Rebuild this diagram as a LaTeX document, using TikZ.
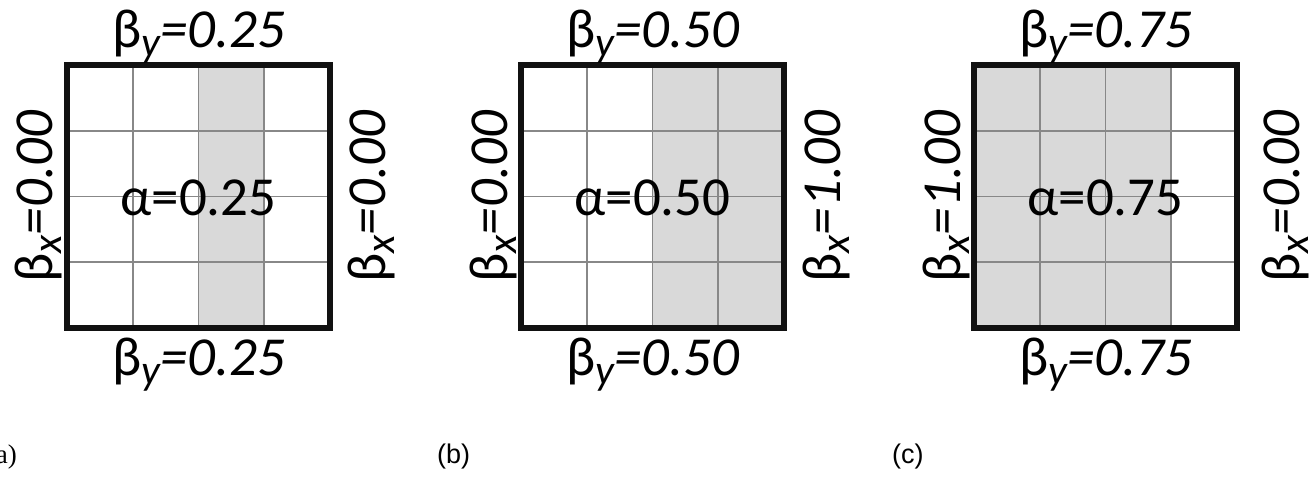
\documentclass[tikz,border=0pt]{standalone}
\usepackage{fontspec}
\setmainfont{Carlito}
\newfontfamily\arialfont{Liberation Sans}
\newfontfamily\timesfont{Liberation Serif}
\definecolor{shadec}{HTML}{D9D9D9}
\definecolor{gridc}{HTML}{888888}
\definecolor{framec}{HTML}{111111}
\newcommand{\bylab}[1]{β\raisebox{-9pt}{\fontsize{42}{42}\selectfont\itshape y}{\itshape =#1}}
\newcommand{\bxlab}[1]{β\raisebox{-9pt}{\fontsize{42}{42}\selectfont\itshape x}{\itshape =#1}}
\tikzset{
  lab/.style={inner sep=0pt, font=\fontsize{55}{60}\selectfont, text=black},
  sidelab/.style={lab, anchor=base, rotate=90},
  gridline/.style={draw=gridc, line width=1.6pt},
  framebox/.style={draw=framec, line width=6.8pt},
  shadebox/.style={fill=shadec},
  panellab/.style={inner sep=0pt, font=\fontsize{27}{30}\selectfont, text=black}
}
\begin{document}
\begin{tikzpicture}[x=1pt,y=-1pt]
\useasboundingbox (0,0) rectangle (1313,477);
% ---------- panel (a)
\begin{scope}[shift={(67,65)}]
  \fill[shadebox] (131.5,0) rectangle (197.25,263);
  \foreach \i in {1,2,3}{
    \draw[gridline] (\i*65.75,0) -- (\i*65.75,265);
    \draw[gridline] (0,\i*65.75) -- (266,\i*65.75);
  }
  \node[framebox, minimum width=263pt, minimum height=263pt, inner sep=0pt] (sqa) at (131.5,131.5) {};
  \node[lab, anchor=base] (aa) at (131.5,150) {α=0.25};
  \node[lab, anchor=base] (ta) at (131.5,-18) {\bylab{0.25}};
  \node[lab, anchor=base] (ba) at (131.5,310) {\bylab{0.25}};
  \node[sidelab] (la) at (-15,131.5) {\bxlab{0.00}};
  \node[sidelab] (ra) at (318,131.5) {\bxlab{0.00}};
\end{scope}
% ---------- panel (b)
\begin{scope}[shift={(521,65)}]
  \fill[shadebox] (131.5,0) rectangle (263,263);
  \foreach \i in {1,2,3}{
    \draw[gridline] (\i*65.75,0) -- (\i*65.75,265);
    \draw[gridline] (0,\i*65.75) -- (266,\i*65.75);
  }
  \node[framebox, minimum width=263pt, minimum height=263pt, inner sep=0pt] (sqb) at (131.5,131.5) {};
  \node[lab, anchor=base] (ab) at (131.5,150) {α=0.50};
  \node[lab, anchor=base] (tb) at (131.5,-18) {\bylab{0.50}};
  \node[lab, anchor=base] (bb) at (131.5,310) {\bylab{0.50}};
  \node[sidelab] (lb) at (-14,131.5) {\bxlab{0.00}};
  \node[sidelab] (rb) at (319,131.5) {\bxlab{1.00}};
\end{scope}
% ---------- panel (c)
\begin{scope}[shift={(974,65)}]
  \fill[shadebox] (0,0) rectangle (197.25,263);
  \foreach \i in {1,2,3}{
    \draw[gridline] (\i*65.75,0) -- (\i*65.75,266);
    \draw[gridline] (0,\i*65.75) -- (266,\i*65.75);
  }
  \node[framebox, minimum width=263pt, minimum height=263pt, inner sep=0pt] (sqc) at (131.5,131.5) {};
  \node[lab, anchor=base] (ac) at (131.5,150) {α=0.75};
  \node[lab, anchor=base] (tc) at (131.5,-18) {\bylab{0.75}};
  \node[lab, anchor=base] (bc) at (131.5,310) {\bylab{0.75}};
  \node[sidelab] (lc) at (-14,131.5) {\bxlab{1.00}};
  \node[sidelab] (rc) at (325,131.5) {\bxlab{0.00}};
\end{scope}
% ---------- panel letters
\node[panellab, anchor=base east, font=\fontsize{27}{30}\selectfont\timesfont] (pa) at (17,463) {(a)};
\node[panellab, anchor=base west, font=\fontsize{27}{30}\selectfont\arialfont] (pb) at (437,463) {(b)};
\node[panellab, anchor=base west, font=\fontsize{27}{30}\selectfont\arialfont] (pc) at (892,463) {(c)};
\end{tikzpicture}
\end{document}
